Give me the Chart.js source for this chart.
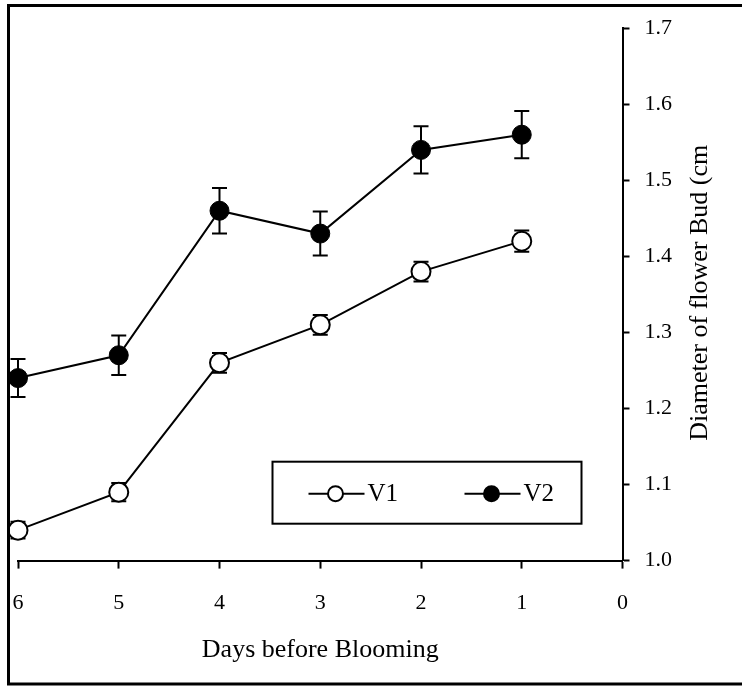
<!DOCTYPE html>
<html>
<head>
<meta charset="utf-8">
<script src="https://cdn.jsdelivr.net/npm/chart.js@4/dist/chart.umd.min.js"></script>
<style>
  html, body { margin: 0; padding: 0; background: #fff; }
  canvas { display: block; }
</style>
</head>
<body>
<canvas id="budChart" width="742" height="686"></canvas>
<script>
// Data
const days = [6, 5, 4, 3, 2, 1];
const v1Values = [1.04, 1.09, 1.26, 1.31, 1.38, 1.42];
const v1Errors = [0.011, 0.012, 0.013, 0.013, 0.013, 0.014];
const v2Values = [1.24, 1.27, 1.46, 1.43, 1.54, 1.56];
const v2Errors = [0.025, 0.026, 0.03, 0.029, 0.031, 0.031];
const seriesNames = ['V1', 'V2'];
const xTitle = 'Days before Blooming';
const yTitle = 'Diameter of flower Bud (cm)';

const serif = '"Liberation Serif", "Times New Roman", serif';
const errorSets = [v1Errors, v2Errors];

// error bars, drawn under the markers
const errorBarPlugin = {
    id: 'errorBars',
    beforeDatasetsDraw(chart) {
        const ctx = chart.ctx;
        const xs = chart.scales.x;
        const ys = chart.scales.y;
        ctx.save();
        ctx.strokeStyle = '#000';
        ctx.lineWidth = 2;
        chart.data.datasets.forEach((ds, d) => {
            ds.data.forEach((p, i) => {
                const err = errorSets[d][i];
                const px = xs.getPixelForValue(p.x);
                const top = ys.getPixelForValue(p.y + err);
                const bot = ys.getPixelForValue(p.y - err);
                ctx.beginPath();
                ctx.moveTo(px, top);
                ctx.lineTo(px, bot);
                ctx.moveTo(px - 7.5, top);
                ctx.lineTo(px + 7.5, top);
                ctx.moveTo(px - 7.5, bot);
                ctx.lineTo(px + 7.5, bot);
                ctx.stroke();
            });
        });
        ctx.restore();
    }
};

// legend box, y title and outer frame
const decorPlugin = {
    id: 'decor',
    afterDraw(chart) {
        const ctx = chart.ctx;
        const area = chart.chartArea;
        ctx.save();

        // legend
        const bx = area.left + 254.5, by = area.top + 433.5;
        ctx.strokeStyle = '#000';
        ctx.lineWidth = 2;
        ctx.strokeRect(bx, by, 309, 62);
        const cy = by + 32;
        const entries = [{ x: bx + 36, fill: '#fff' }, { x: bx + 192, fill: '#000' }];
        entries.forEach((e, i) => {
            ctx.beginPath();
            ctx.moveTo(e.x, cy);
            ctx.lineTo(e.x + 56, cy);
            ctx.stroke();
            ctx.beginPath();
            ctx.arc(e.x + 27, cy, 7.5, 0, Math.PI * 2);
            ctx.fillStyle = e.fill;
            ctx.fill();
            ctx.stroke();
            ctx.fillStyle = '#000';
            ctx.font = '25px ' + serif;
            ctx.textAlign = 'left';
            ctx.textBaseline = 'middle';
            ctx.fillText(seriesNames[i], e.x + 59, cy + 1);
        });

        // y axis title, reading upward, the closing bracket cut off as in the source
        ctx.font = '26px ' + serif;
        const full = ctx.measureText(yTitle).width;
        const cut = ctx.measureText(')').width;
        const midY = (area.top + area.bottom) / 2 - 6;
        const tx = chart.scales.y.right + 13;
        ctx.save();
        ctx.beginPath();
        ctx.rect(tx - 20, midY - full / 2 + cut, 40, full);
        ctx.clip();
        ctx.translate(tx, midY);
        ctx.rotate(-Math.PI / 2);
        ctx.textAlign = 'center';
        ctx.textBaseline = 'middle';
        ctx.fillStyle = '#000';
        ctx.fillText(yTitle, 0, 0);
        ctx.restore();

        // outer frame (right side falls outside the picture)
        ctx.lineWidth = 3;
        ctx.strokeStyle = '#000';
        ctx.strokeRect(8.5, 5.5, 780, 678.5);
        ctx.restore();
    }
};

const ctx = document.getElementById('budChart').getContext('2d');
new Chart(ctx, {
    type: 'line',
    data: {
        datasets: [
            {
                label: seriesNames[0],
                data: days.map((d, i) => ({ x: d, y: v1Values[i] })),
                borderColor: '#000',
                borderWidth: 2,
                pointRadius: 9.5,
                pointBackgroundColor: '#fff',
                pointBorderColor: '#000',
                pointBorderWidth: 2,
                tension: 0,
                clip: false
            },
            {
                label: seriesNames[1],
                data: days.map((d, i) => ({ x: d, y: v2Values[i] })),
                borderColor: '#000',
                borderWidth: 2,
                pointRadius: 9.5,
                pointBackgroundColor: '#000',
                pointBorderColor: '#000',
                pointBorderWidth: 1,
                tension: 0,
                clip: false
            }
        ]
    },
    options: {
        responsive: false,
        animation: false,
        layout: { padding: { left: 18, top: 28, right: 55, bottom: 23 } },
        plugins: {
            legend: { display: false },
            tooltip: { enabled: false }
        },
        scales: {
            x: {
                type: 'linear',
                position: 'bottom',
                reverse: true,
                min: 0,
                max: 6,
                afterFit(scale) {
                    // no extra room for the end labels; the layout padding covers them
                    scale.paddingLeft = 0;
                    scale.paddingRight = 0;
                },
                border: { display: true, color: '#000', width: 2 },
                grid: { drawOnChartArea: false, drawTicks: true, tickLength: 8, tickColor: '#000', tickWidth: 2 },
                ticks: {
                    stepSize: 1,
                    padding: 21,
                    color: '#000',
                    font: { family: serif, size: 22 }
                },
                title: {
                    display: true,
                    text: xTitle,
                    color: '#000',
                    padding: 0,
                    font: { family: serif, size: 26, lineHeight: 1 }
                }
            },
            y: {
                type: 'linear',
                position: 'right',
                min: 1.0,
                max: 1.7,
                border: { display: true, color: '#000', width: 2 },
                grid: { drawOnChartArea: false, drawTicks: true, tickLength: 7, tickColor: '#000', tickWidth: 2 },
                ticks: {
                    stepSize: 0.1,
                    padding: 15,
                    color: '#000',
                    font: { family: serif, size: 22 },
                    callback: v => v.toFixed(1)
                }
            }
        }
    },
    plugins: [errorBarPlugin, decorPlugin]
});
</script>
</body>
</html>
